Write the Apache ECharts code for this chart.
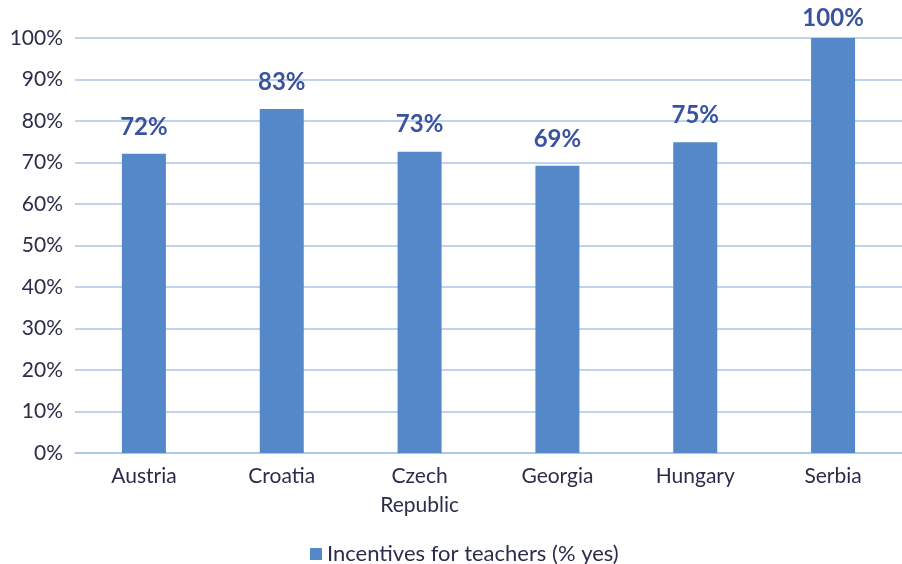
<!DOCTYPE html>
<html>
<head>
<meta charset="utf-8">
<script src="https://cdn.jsdelivr.net/npm/echarts@6/dist/echarts.min.js"></script>
<style>
  html, body { margin: 0; padding: 0; background: #fff; }
  #chart { width: 902px; height: 564px; }
</style>
</head>
<body>
<div id="chart"></div>
<script>
const countries = ['Austria', 'Croatia', 'Czech Republic', 'Georgia', 'Hungary', 'Serbia'];
const incentives = [72.1, 82.9, 72.6, 69.2, 74.9, 100];
const seriesName = 'Incentives for teachers (% yes)';

const chart = echarts.init(document.getElementById('chart'));

chart.setOption({
  animation: false,
  textStyle: { fontFamily: 'Lato' },
  grid: { left: 75, right: 0, top: 38, bottom: 111 },
  legend: {
    left: 305,
    top: 538,
    itemWidth: 12,
    itemHeight: 12,
    icon: 'rect',
    itemGap: 10,
    textStyle: { fontSize: 22, color: '#2b2d4a', fontFamily: 'Lato' }
  },
  xAxis: {
    type: 'category',
    data: countries,
    axisLine: { lineStyle: { color: '#a9c5e8', width: 1.5 } },
    axisTick: { show: false },
    axisLabel: {
      fontSize: 21,
      color: '#2b2d4a',
      margin: 9,
      lineHeight: 29,
      formatter: v => v.replace(' ', '\n')
    }
  },
  yAxis: {
    type: 'value',
    min: 0,
    max: 100,
    interval: 10,
    axisLine: { show: false },
    axisTick: { show: false },
    splitLine: { lineStyle: { color: '#a9c5e8', width: 1.5 } },
    axisLabel: { fontSize: 21, color: '#2b2d4a', margin: 12, formatter: '{value}%' }
  },
  series: [{
    name: seriesName,
    type: 'bar',
    barWidth: 44,
    itemStyle: { color: '#5588c8' },
    data: incentives.map(v => ({
      value: v,
      label: { distance: v >= 100 ? 8 : 15 }
    })),
    label: {
      show: true,
      position: 'top',
      fontSize: 24,
      fontWeight: 'bold',
      color: '#3a53a0',
      formatter: p => Math.round(p.value) + '%'
    }
  }]
});
</script>
</body>
</html>
